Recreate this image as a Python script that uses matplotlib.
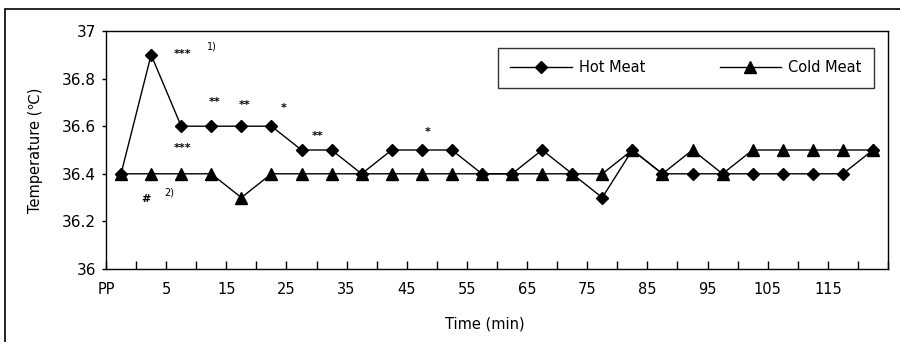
import matplotlib
matplotlib.use("Agg")
import matplotlib.pyplot as plt
from matplotlib.lines import Line2D
from matplotlib.patches import Rectangle

plt.rcParams['font.family'] = ['DejaVu Sans']

tick_labels = ["PP", "5", "15", "25", "35", "45", "55", "65", "75", "85", "95", "105", "115"]
hot_meat = [36.4, 36.9, 36.6, 36.6, 36.6, 36.6, 36.5, 36.5, 36.4, 36.5, 36.5, 36.5, 36.4,
            36.4, 36.5, 36.4, 36.3, 36.5, 36.4, 36.4, 36.4, 36.4, 36.4, 36.4, 36.4, 36.5]
cold_meat = [36.4, 36.4, 36.4, 36.4, 36.3, 36.4, 36.4, 36.4, 36.4, 36.4, 36.4, 36.4, 36.4,
             36.4, 36.4, 36.4, 36.4, 36.5, 36.4, 36.5, 36.4, 36.5, 36.5, 36.5, 36.5, 36.5]
# significance marks: (category position, y value, text)
marks_hot = [(2.55, 36.905, "***"), (3.6, 36.70, "**"), (4.6, 36.69, "**"), (5.9, 36.675, "*"), (7.05, 36.56, "**"), (10.7, 36.575, "*")]
marks_cold = [(2.55, 36.51, "***"), (1.33, 36.295, "#")]
footnotes = [(3.35, 36.935, "1)"), (1.95, 36.32, "2)")]

W, H = 900, 342
fig = plt.figure(figsize=(W / 100, H / 100), dpi=100)
ax = fig.add_axes([106 / W, 1 - 269 / H, (888 - 106) / W, (269 - 31) / H])

n = len(hot_meat)
xs = [i + 0.5 for i in range(n)]
ax.plot(xs, hot_meat, color="black", lw=1.0, marker="D", ms=6, mfc="black", mec="black", label="Hot Meat")
ax.plot(xs, cold_meat, color="black", lw=1.0, marker="^", ms=8, mfc="black", mec="black", label="Cold Meat")

ax.set_xlim(0, n)
ax.set_ylim(36, 37)
ax.set_yticks([36, 36.2, 36.4, 36.6, 36.8, 37])
ax.set_yticklabels(["36", "36.2", "36.4", "36.6", "36.8", "37"], fontsize=11)
ax.set_xticks(range(0, n + 1))
ax.set_xticklabels([tick_labels[i // 2] if (i % 2 == 0 and i // 2 < len(tick_labels)) else "" for i in range(n + 1)], fontsize=10.5)
ax.tick_params(axis="x", direction="in", length=6, width=1, pad=9)
ax.tick_params(axis="y", direction="out", length=3, width=1, pad=4)
for s in ax.spines.values():
    s.set_linewidth(1.0)

for x, y, t in marks_hot + marks_cold:
    ax.text(x, y, t, fontsize=8, ha="center", va="center", fontweight="bold")
for x, y, t in footnotes:
    ax.text(x, y, t, fontsize=7, ha="left", va="center")

ax.set_ylabel("Temperature (℃)", fontsize=10.5, labelpad=14)
fig.text(485 / W, 1 - 324 / H, "Time (min)", fontsize=10.5, ha="center", va="center")

handles = [Line2D([0], [0], color="black", lw=1.0, marker="D", ms=6),
           Line2D([0], [0], color="black", lw=1.0, marker="^", ms=8)]
leg = ax.legend(handles, ["Hot Meat", "Cold Meat"], loc="upper left", ncol=2, mode="expand",
                bbox_to_anchor=((498 - 106) / 782, (269 - 48) / 238, 376 / 782, 0),
                borderaxespad=0, frameon=True, fancybox=False, edgecolor="black", fontsize=10.5,
                handlelength=4.2, borderpad=0.85, handletextpad=0.5)
leg.get_frame().set_linewidth(1.0)

fig.patches.append(Rectangle((5 / W, -0.1), 1.2, 1 - 9 / H + 0.1, transform=fig.transFigure,
                             fill=False, edgecolor="black", lw=1.2))

fig.savefig("out.png", dpi=100)
